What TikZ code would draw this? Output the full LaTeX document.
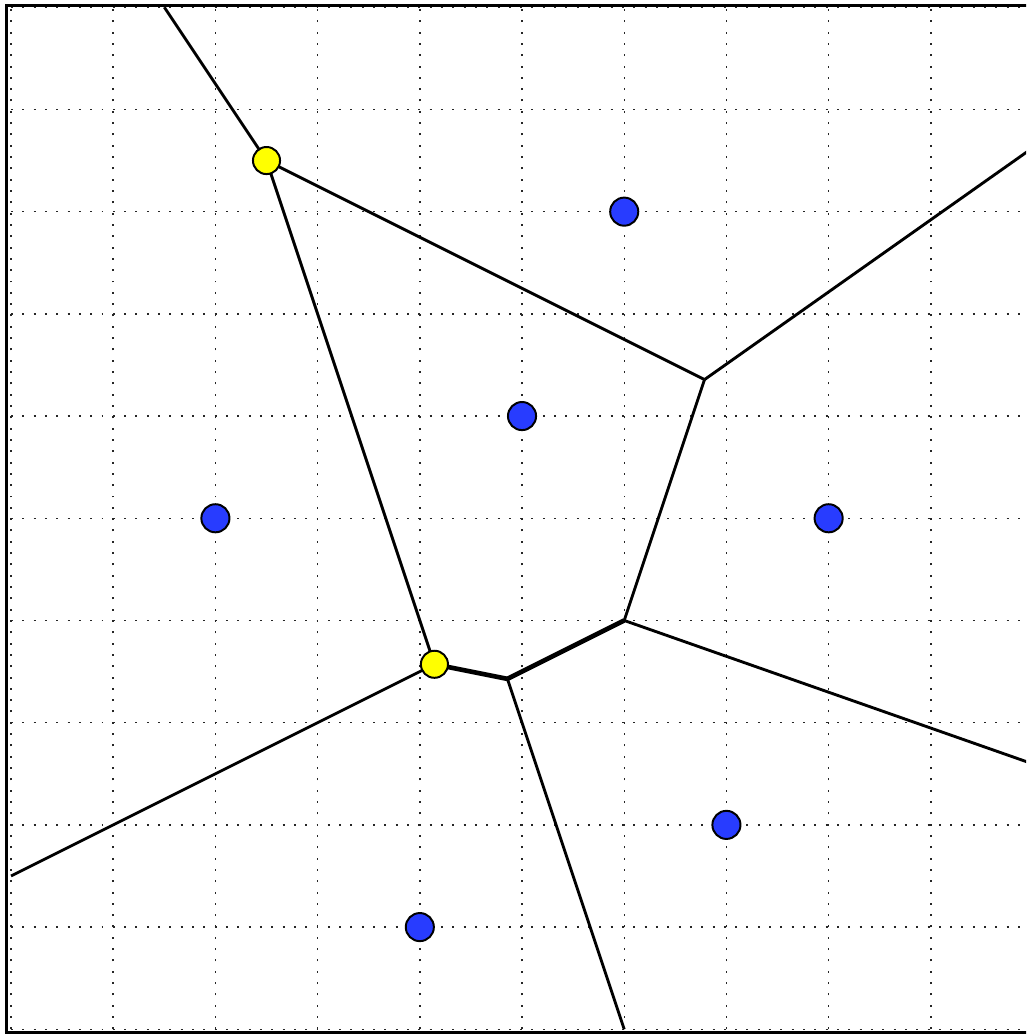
\documentclass[tikz,border=0pt]{standalone}
\definecolor{siteblue}{RGB}{40,60,255}
\definecolor{vyellow}{RGB}{255,255,0}
\begin{document}
\begin{tikzpicture}[x=1cm,y=1cm,
  gridline/.style={line width=0.4pt,dash pattern=on 0.55pt off 2.6pt,black!85},
  frameline/.style={line width=0.8pt,black},
  edge/.style={line width=0.8pt,black},
  boldedge/.style={line width=1.3pt,black},
  site/.style={circle,draw=black,line width=0.55pt,fill=siteblue,minimum size=0.275cm,inner sep=0pt},
  vtx/.style={circle,draw=black,line width=0.55pt,fill=vyellow,minimum size=0.265cm,inner sep=0pt}]
\useasboundingbox (-0.1076,-0.046) rectangle (9.932,10.071);
\clip (-0.1076,-0.046) rectangle (9.932,10.071);
% grid
\foreach \i in {0,...,10} {
  \draw[gridline] (\i,0) -- (\i,10);
  \draw[gridline] (0,\i) -- (10,\i);
}
% frame
\draw[frameline] (-0.044,-0.03) rectangle (10.04,10.02);
% Voronoi vertices and border ends
\coordinate (vABC) at (2.5,8.5);
\coordinate (vACF) at (4.1429,3.5714);
\coordinate (vCEF) at (4.8571,3.4286);
\coordinate (vCDE) at (6,4);
\coordinate (vBCD) at (6.7857,6.3571);
\coordinate (eTop) at (1.5,10);
\coordinate (eTR) at (10,8.627);
\coordinate (eR) at (10,2.596);
\coordinate (eBot) at (6,0);
\coordinate (eL) at (0,1.5);
% edges
\draw[edge] (eTop) -- (vABC);
\draw[edge] (vABC) -- (vBCD);
\draw[edge] (vABC) -- (vACF);
\draw[edge] (vACF) -- (eL);
\draw[boldedge] (vACF) -- (vCEF);
\draw[boldedge] (vCEF) -- (vCDE);
\draw[edge] (vCEF) -- (eBot);
\draw[edge] (vCDE) -- (eR);
\draw[edge] (vCDE) -- (vBCD);
\draw[edge] (vBCD) -- (eTR);
% sites
\node[site] (sA) at (2,5) {};
\node[site] (sB) at (6,8) {};
\node[site] (sC) at (5,6) {};
\node[site] (sD) at (8,5) {};
\node[site] (sE) at (7,2) {};
\node[site] (sF) at (4,1) {};
% highlighted vertices
\node[vtx] (yA) at (vABC) {};
\node[vtx] (yB) at (vACF) {};
\end{tikzpicture}
\end{document}
